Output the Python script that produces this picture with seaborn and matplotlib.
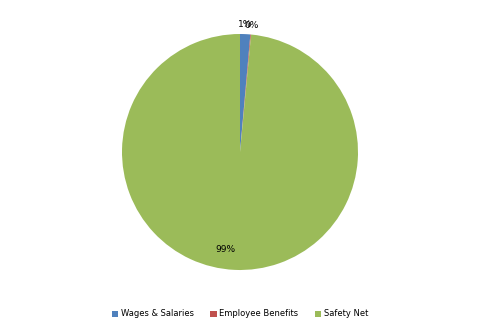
import matplotlib
matplotlib.use("Agg")
import matplotlib.pyplot as plt
import seaborn as sns
import numpy as np
from matplotlib.patches import Patch

categories = ["Wages & Salaries", "Employee Benefits", "Safety Net"]
values = [1.4, 0.1, 98.5]
pct_labels = ["1%", "0%", "99%"]
colors = ["#4F81BD", "#C0504D", "#9BBB59"]

sns.set_theme(style="white")
plt.rcParams['font.family'] = ['DejaVu Sans']

fig = plt.figure(figsize=(4.8, 3.33), dpi=100)
cx, cy, r = 240, 152, 118
ax = fig.add_axes([(cx - r) / 480, (333 - cy - r) / 333, 2 * r / 480, 2 * r / 333])
wedges, _ = ax.pie(values, colors=colors, startangle=90, counterclock=False,
                   radius=1.0, wedgeprops=dict(linewidth=0))
ax.set_xlim(-1, 1)
ax.set_ylim(-1, 1)
ax.set_aspect("auto")
ax.axis("off")

for w, lab in zip(wedges, pct_labels):
    mid = np.deg2rad((w.theta1 + w.theta2) / 2)
    big = (w.theta2 - w.theta1) > 90
    d = 0.83 if big else 1.08
    ax.text(d * np.cos(mid), d * np.sin(mid), lab, ha="right" if big else "center",
            va="center", fontsize=6.5, color="black")

handles = [Patch(facecolor=c, edgecolor="none") for c in colors]
leg = fig.legend(handles, categories, loc="center", bbox_to_anchor=(0.5, 1 - 314 / 333),
                 ncol=3, frameon=False, fontsize=6, handlelength=0.75, handleheight=0.75,
                 columnspacing=2.0, handletextpad=0.3)
for t in leg.get_texts():
    t.set_color("black")

fig.savefig("out.png", dpi=100, facecolor="white")
